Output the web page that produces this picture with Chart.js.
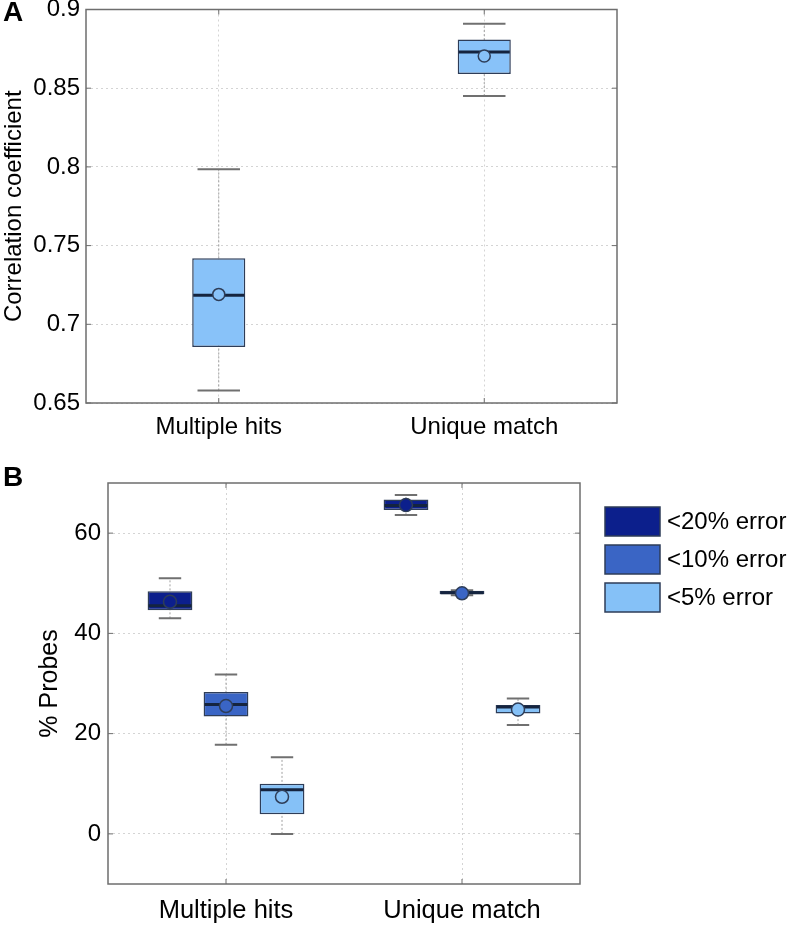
<!DOCTYPE html>
<html>
<head>
<meta charset="utf-8">
<script src="https://cdn.jsdelivr.net/npm/chart.js@4.4.1/dist/chart.umd.min.js"></script>
<style>
  body { margin: 0; background: #fff; font-family: 'Liberation Sans', Arial, sans-serif; }
  #wrap { position: relative; width: 796px; height: 925px; overflow: hidden; }
  #wrap canvas { position: absolute; left: 0; }
  .panel { position: absolute; left: 3px; font-weight: bold; font-size: 28px; line-height: 1; color: #000; }
</style>
</head>
<body>
<div id="wrap">
  <canvas id="chartA" width="796" height="460" style="top:0"></canvas>
  <canvas id="chartB" width="796" height="465" style="top:460px"></canvas>
  <div class="panel" style="top:-2px">A</div>
  <div class="panel" style="top:463px">B</div>
</div>
<script>
// categories
const categories = ['Multiple hits', 'Unique match'];

// Panel A - correlation coefficient
const corrLow = [0.658, 0.845];
const corrQ1 = [0.6855, 0.859];
const corrMedian = [0.7185, 0.873];
const corrQ3 = [0.742, 0.881];
const corrHigh = [0.7985, 0.891];
const corrMean = [0.719, 0.8705];
const corrTicks = [0.65, 0.7, 0.75, 0.8, 0.85, 0.9];
const corrTickLabels = ['0.65', '0.7', '0.75', '0.8', '0.85', '0.9'];

// Panel B - % probes, one row per error level
const errorLevels = ['<20% error', '<10% error', '<5% error'];
const probeLow = [[43, 63.6], [17.8, 47.6], [0, 21.7]];
const probeQ1 = [[44.6, 64.6], [23.4, 47.8], [3.9, 24]];
const probeMedian = [[45.5, 65.5], [25.8, 48.1], [8.8, 25.3]];
const probeQ3 = [[48.4, 66.7], [28.3, 48.5], [10, 25.7]];
const probeHigh = [[51, 67.6], [31.8, 48.6], [15.3, 27]];
const probeMean = [[46.3, 65.6], [25.5, 48], [7.4, 24.8]];
const probeTicks = [0, 20, 40, 60];
const probeTickLabels = ['0', '20', '40', '60'];

const levelColors = ['#0c1f8c', '#3a65c5', '#85c1f7'];
const boxColorA = '#88c2f9';
const edgeColor = '#2e3d58';
const frameColor = '#6e6e6e';
const FONT = "'Liberation Sans', Arial, sans-serif";

// whiskers, medians and means on top of the floating bars
const boxPlot = {
  id: 'boxPlot',
  beforeDatasetsDraw(chart, args, opts) {
    const ctx = chart.ctx;
    const y = chart.scales.y;
    chart.data.datasets.forEach((ds, i) => {
      chart.getDatasetMeta(i).data.forEach((bar, j) => {
        const x = bar.x;
        const half = bar.width * opts.capRatio / 2;
        const lo = y.getPixelForValue(ds.low[j]);
        const hi = y.getPixelForValue(ds.high[j]);
        ctx.save();
        ctx.strokeStyle = '#a0a0a0';
        ctx.lineWidth = 1;
        ctx.setLineDash([2, 2]);
        ctx.beginPath();
        ctx.moveTo(x, lo);
        ctx.lineTo(x, hi);
        ctx.stroke();
        ctx.setLineDash([]);
        ctx.strokeStyle = '#707070';
        ctx.lineWidth = 2;
        ctx.beginPath();
        ctx.moveTo(x - half, lo); ctx.lineTo(x + half, lo);
        ctx.moveTo(x - half, hi); ctx.lineTo(x + half, hi);
        ctx.stroke();
        ctx.restore();
      });
    });
  },
  afterDatasetsDraw(chart, args, opts) {
    const ctx = chart.ctx;
    const y = chart.scales.y;
    chart.data.datasets.forEach((ds, i) => {
      chart.getDatasetMeta(i).data.forEach((bar, j) => {
        const x = bar.x;
        const half = bar.width / 2;
        const med = y.getPixelForValue(ds.median[j]);
        const mean = y.getPixelForValue(ds.mean[j]);
        ctx.save();
        ctx.strokeStyle = '#15243f';
        ctx.lineWidth = 3;
        ctx.beginPath();
        ctx.moveTo(x - half + 1, med);
        ctx.lineTo(x + half - 1, med);
        ctx.stroke();
        ctx.beginPath();
        ctx.arc(x, mean, opts.meanRadius, 0, Math.PI * 2);
        ctx.fillStyle = ds.backgroundColor;
        ctx.fill();
        ctx.lineWidth = 1.5;
        ctx.strokeStyle = edgeColor;
        ctx.stroke();
        ctx.restore();
      });
    });
  }
};

// closed box frame with inward ticks
const frame = {
  id: 'frame',
  afterDatasetsDraw(chart) {
    const {ctx, chartArea: a, scales} = chart;
    ctx.save();
    ctx.strokeStyle = frameColor;
    ctx.lineWidth = 1.5;
    ctx.strokeRect(a.left, a.top, a.right - a.left, a.bottom - a.top);
    ctx.lineWidth = 1;
    ctx.beginPath();
    scales.y.ticks.forEach(t => {
      const py = scales.y.getPixelForValue(t.value);
      ctx.moveTo(a.left, py); ctx.lineTo(a.left + 5, py);
      ctx.moveTo(a.right, py); ctx.lineTo(a.right - 5, py);
    });
    scales.x.ticks.forEach((t, i) => {
      const px = scales.x.getPixelForTick(i);
      ctx.moveTo(px, a.top); ctx.lineTo(px, a.top + 5);
      ctx.moveTo(px, a.bottom); ctx.lineTo(px, a.bottom - 5);
    });
    ctx.stroke();
    ctx.restore();
  }
};

// legend to the right of panel B
const sideLegend = {
  id: 'sideLegend',
  afterDraw(chart) {
    const {ctx, chartArea: a} = chart;
    ctx.save();
    chart.data.datasets.forEach((ds, i) => {
      const bx = a.right + 25, by = a.top + 24 + i * 38;
      ctx.fillStyle = ds.backgroundColor;
      ctx.fillRect(bx, by, 55, 29);
      ctx.strokeStyle = edgeColor;
      ctx.lineWidth = 1.5;
      ctx.strokeRect(bx, by, 55, 29);
      ctx.fillStyle = '#000';
      ctx.font = '24px ' + FONT;
      ctx.textBaseline = 'middle';
      ctx.fillText(ds.label, bx + 62, by + 15);
    });
    ctx.restore();
  }
};

function axes(cfg) {
  return {
    x: {
      offset: true,
      grid: { offset: false, color: '#d4d4d4', lineWidth: 1, drawTicks: false },
      border: { display: false, dash: [2, 3] },
      ticks: { color: '#000', padding: cfg.xPad, font: { family: FONT, size: cfg.xSize } },
      afterFit: s => { s.height = cfg.xHeight; s.paddingLeft = 0; s.paddingRight = 0; }
    },
    y: {
      min: cfg.min,
      max: cfg.max,
      grid: { color: '#d4d4d4', lineWidth: 1, drawTicks: false },
      border: { display: false, dash: [2, 3] },
      afterBuildTicks: s => { s.ticks = cfg.ticks.map(v => ({ value: v })); },
      ticks: {
        color: '#000', padding: cfg.yPad, font: { family: FONT, size: 24 },
        callback: (v, i) => cfg.tickLabels[i]
      },
      title: {
        display: true, text: cfg.title, color: '#000',
        font: { family: FONT, size: cfg.titleSize }, padding: { top: cfg.titlePad, bottom: 0 }
      },
      afterFit: s => { s.width = cfg.yWidth; s.paddingTop = 0; s.paddingBottom = 0; }
    }
  };
}

new Chart(document.getElementById('chartA'), {
  type: 'bar',
  data: {
    labels: categories,
    datasets: [{
      label: 'Correlation coefficient',
      data: corrQ1.map((q, j) => [q, corrQ3[j]]),
      low: corrLow, high: corrHigh, median: corrMedian, mean: corrMean,
      backgroundColor: boxColorA,
      borderColor: edgeColor,
      borderWidth: 1.5,
      borderSkipped: false,
      barPercentage: 0.2,
      categoryPercentage: 1
    }]
  },
  options: {
    responsive: false,
    animation: false,
    layout: { padding: { top: 9.5, right: 179, left: 0, bottom: 0 } },
    plugins: { legend: { display: false }, tooltip: { enabled: false }, boxPlot: { capRatio: 0.8, meanRadius: 6 } },
    scales: axes({ min: 0.65, max: 0.9, ticks: corrTicks, tickLabels: corrTickLabels, title: 'Correlation coefficient',
      titleSize: 24, titlePad: 0, yWidth: 86, yPad: 6, xHeight: 57, xPad: 10, xSize: 24 })
  },
  plugins: [boxPlot, frame]
});

new Chart(document.getElementById('chartB'), {
  type: 'bar',
  data: {
    labels: categories,
    datasets: errorLevels.map((name, i) => ({
      label: name,
      data: probeQ1[i].map((q, j) => [q, probeQ3[i][j]]),
      low: probeLow[i], high: probeHigh[i], median: probeMedian[i], mean: probeMean[i],
      backgroundColor: levelColors[i],
      borderColor: edgeColor,
      borderWidth: 1.5,
      borderSkipped: false,
      barPercentage: 0.8,
      categoryPercentage: 0.712
    }))
  },
  options: {
    responsive: false,
    animation: false,
    layout: { padding: { top: 23, right: 216, left: 0, bottom: 0 } },
    plugins: { legend: { display: false }, tooltip: { enabled: false }, boxPlot: { capRatio: 0.5, meanRadius: 6.5 } },
    scales: axes({ min: -10, max: 70, ticks: probeTicks, tickLabels: probeTickLabels, title: '% Probes',
      titleSize: 25, titlePad: 35, yWidth: 108, yPad: 7, xHeight: 41, xPad: 12, xSize: 25.5 })
  },
  plugins: [boxPlot, frame, sideLegend]
});
</script>
</body>
</html>
